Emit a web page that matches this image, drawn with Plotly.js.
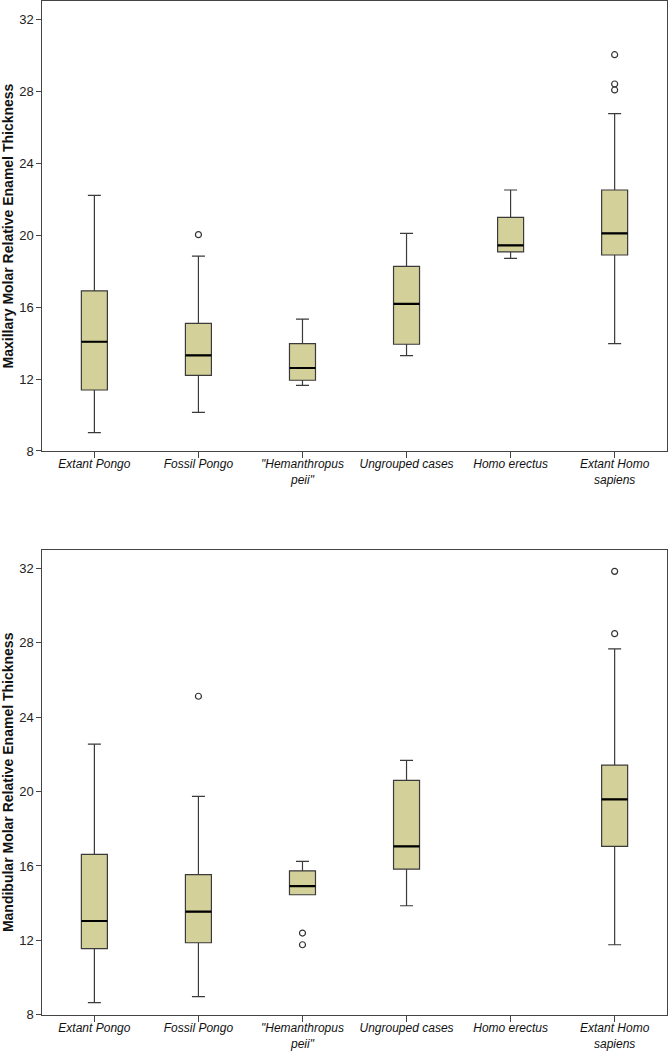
<!DOCTYPE html>
<html>
<head>
<meta charset="utf-8">
<script src="https://cdn.plot.ly/plotly-3.0.1.min.js"></script>
<style>html,body{margin:0;padding:0;background:#fff;}#chart{width:668px;height:1052px;}</style>
</head>
<body>
<div id="chart"></div>
<script>
// Categories and tick labels
const categories = ["Extant Pongo", "Fossil Pongo", "Hemanthropus peii", "Ungrouped cases", "Homo erectus", "Extant Homo sapiens"];
const tickLabels = ["Extant Pongo", "Fossil Pongo", "\"Hemanthropus<br>peii\"", "Ungrouped cases", "Homo erectus", "Extant Homo<br>sapiens"];

// Maxillary (top panel) box statistics
const maxCats   = ["Extant Pongo", "Fossil Pongo", "Hemanthropus peii", "Ungrouped cases", "Homo erectus", "Extant Homo sapiens"];
const maxLow    = [9.02, 10.15, 11.65, 13.30, 18.70, 13.96];
const maxQ1     = [11.39, 12.20, 11.93, 13.93, 19.06, 18.89];
const maxMedian = [14.07, 13.31, 12.61, 16.17, 19.43, 20.09];
const maxQ3     = [16.90, 15.09, 13.96, 18.26, 20.98, 22.50];
const maxHigh   = [22.20, 18.83, 15.33, 20.09, 22.50, 26.74];
const maxOutCats = ["Fossil Pongo", "Extant Homo sapiens", "Extant Homo sapiens", "Extant Homo sapiens"];
const maxOutVals = [20.02, 30.02, 28.39, 28.06];

// Mandibular (bottom panel) box statistics
const manCats   = ["Extant Pongo", "Fossil Pongo", "Hemanthropus peii", "Ungrouped cases", "Extant Homo sapiens"];
const manLow    = [8.65, 8.97, 14.45, 13.86, 11.76];
const manQ1     = [11.55, 11.87, 14.45, 15.83, 17.05];
const manMedian = [13.04, 13.54, 14.92, 17.05, 19.58];
const manQ3     = [16.62, 15.53, 15.74, 20.60, 21.42];
const manHigh   = [22.55, 19.74, 16.25, 21.68, 27.68];
const manOutCats = ["Fossil Pongo", "Hemanthropus peii", "Hemanthropus peii", "Extant Homo sapiens", "Extant Homo sapiens"];
const manOutVals = [25.13, 12.39, 11.76, 31.85, 28.50];

const FILL = "#d4d09a";
const EDGE = "#3a3a3a";
const BOXW = 0.25;

function boxTraces(cats, lo, q1, med, q3, hi, outC, outV, xa, ya) {
  return [
    {
      type: "box", x: cats, q1: q1, median: med, q3: q3,
      lowerfence: lo, upperfence: hi,
      width: BOXW, whiskerwidth: 0.5,
      fillcolor: FILL, line: {color: EDGE, width: 1.2},
      boxpoints: false, hoverinfo: "skip", showlegend: false,
      xaxis: xa, yaxis: ya
    },
    {
      // thick median bar drawn as a degenerate box
      type: "box", x: cats, q1: med, median: med, q3: med,
      lowerfence: med, upperfence: med,
      width: BOXW, whiskerwidth: 0,
      fillcolor: "rgba(0,0,0,0)", line: {color: "#000", width: 2.2},
      boxpoints: false, hoverinfo: "skip", showlegend: false,
      xaxis: xa, yaxis: ya
    },
    {
      type: "scatter", mode: "markers", x: outC, y: outV,
      marker: {symbol: "circle-open", size: 6, color: "#333", line: {width: 1.2, color: "#333"}},
      hoverinfo: "skip", showlegend: false,
      xaxis: xa, yaxis: ya
    }
  ];
}

const data = [].concat(
  boxTraces(maxCats, maxLow, maxQ1, maxMedian, maxQ3, maxHigh, maxOutCats, maxOutVals, "x", "y"),
  boxTraces(manCats, manLow, manQ1, manMedian, manQ3, manHigh, manOutCats, manOutVals, "x2", "y2")
);

const font = {family: "Liberation Sans, Arial, sans-serif", size: 13, color: "#222"};

function xaxisDef(anchor) {
  return {
    type: "category", categoryorder: "array", categoryarray: categories,
    tickvals: categories, ticktext: tickLabels,
    range: [-0.5, 5.5], domain: [0.0634, 0.998], anchor: anchor,
    showline: true, mirror: true, linecolor: "#444", linewidth: 1,
    ticks: "outside", ticklen: 6, tickcolor: "#444", tickwidth: 1,
    ticklabelstandoff: -4,
    showgrid: false, zeroline: false, automargin: false,
    tickfont: {family: font.family, size: 12, color: "#111", style: "italic"}
  };
}
function yaxisDef(anchor, domain, title) {
  return {
    range: [8, 33], domain: domain, anchor: anchor,
    tickvals: [8, 12, 16, 20, 24, 28, 32],
    showline: true, mirror: true, linecolor: "#444", linewidth: 1,
    ticks: "outside", ticklen: 5, tickcolor: "#444", tickwidth: 1,
    showgrid: false, zeroline: false, automargin: false,
    tickfont: {family: font.family, size: 13, color: "#222"},
    title: {text: title, font: {family: font.family, size: 14, color: "#111", weight: "bold"}, standoff: 6}
  };
}

const layout = {
  width: 668, height: 1052,
  margin: {l: 0, r: 0, t: 0, b: 0},
  paper_bgcolor: "#fff", plot_bgcolor: "#fff",
  font: font, boxmode: "overlay", showlegend: false,
  xaxis: xaxisDef("y"),
  yaxis: yaxisDef("x", [0.5713, 0.999], "<b>Maxillary Molar Relative Enamel Thickness</b>"),
  xaxis2: xaxisDef("y2"),
  yaxis2: yaxisDef("x2", [0.0355, 0.4772], "<b>Mandibular Molar Relative Enamel Thickness</b>")
};

Plotly.newPlot("chart", data, layout, {displayModeBar: false, staticPlot: true});
</script>
</body>
</html>
